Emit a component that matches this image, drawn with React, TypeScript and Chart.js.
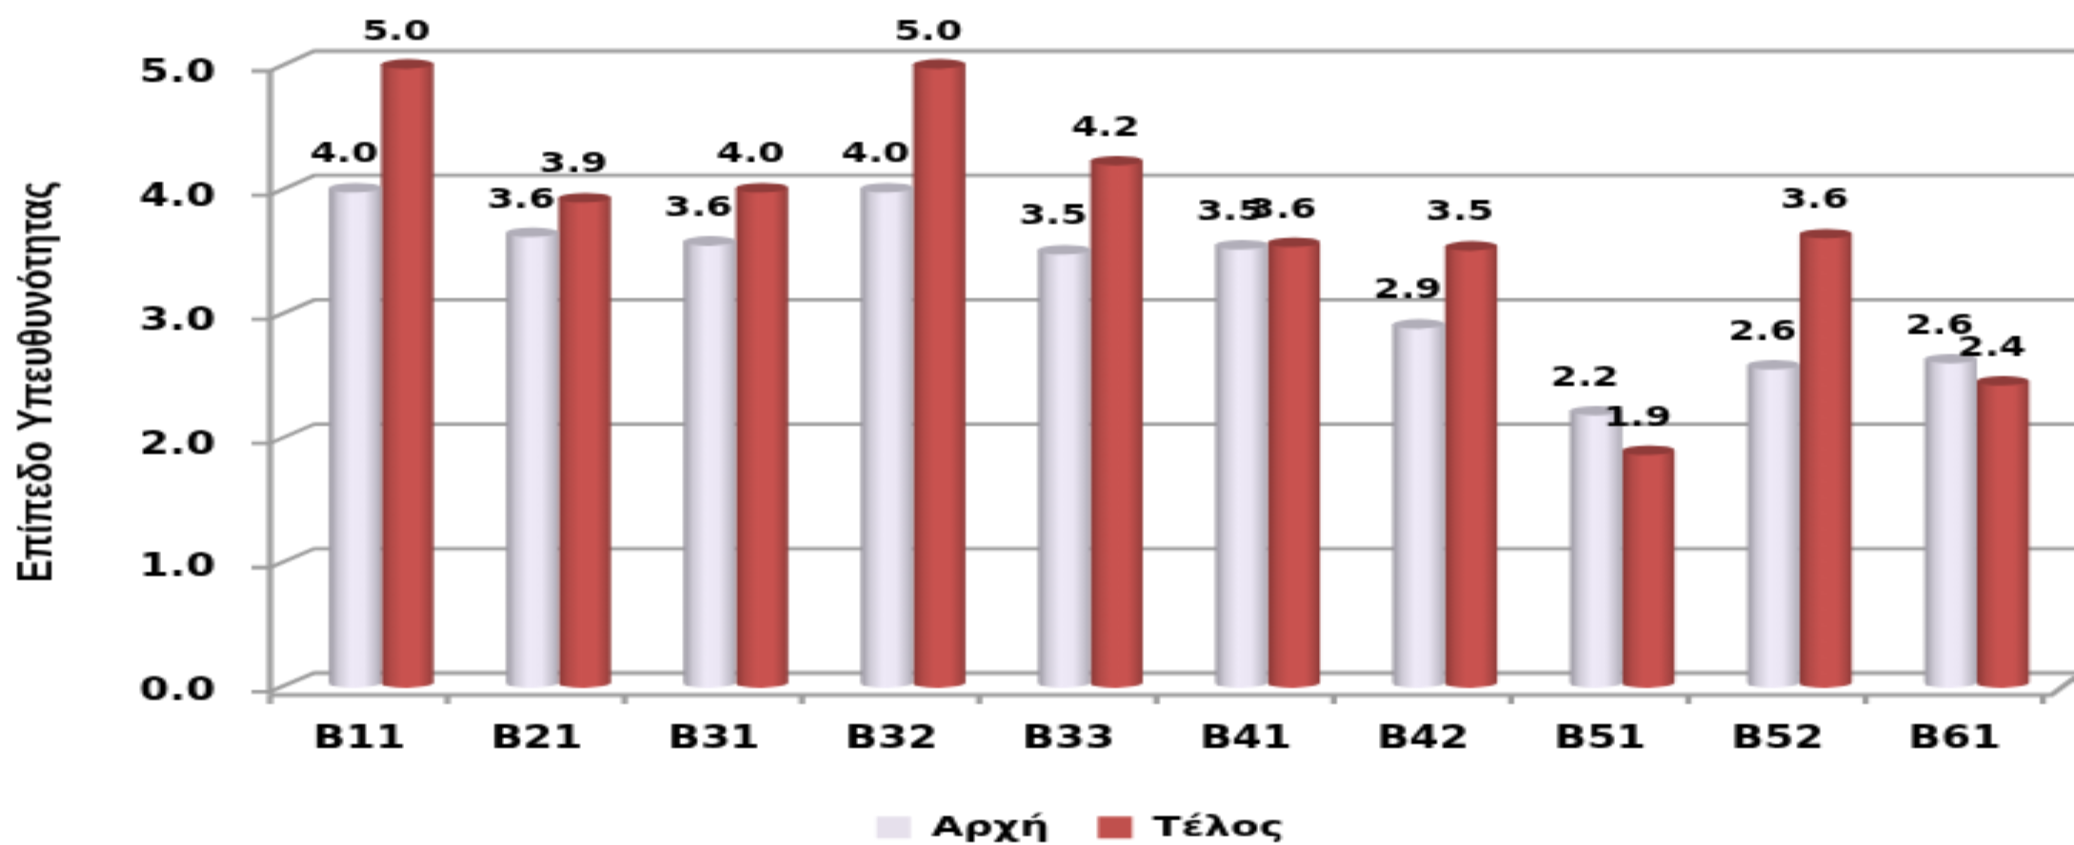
import React, { useEffect, useRef } from "react";
import { Chart, registerables } from "chart.js";

Chart.register(...registerables);

const categories = ["B11", "B21", "B31", "B32", "B33", "B41", "B42", "B51", "B52", "B61"];
const arxi = [4.0, 3.64, 3.57, 4.0, 3.5, 3.54, 2.9, 2.2, 2.57, 2.62];
const telos = [5.0, 3.92, 4.0, 5.0, 4.22, 3.56, 3.53, 1.88, 3.63, 2.44];
const seriesNames = ["Αρχή", "Τέλος"];
const legendColors = ["#e6e0ec", "#c0504d"];
const yTitle = "Επίπεδο Υπευθυνότητας";
const yTicks = [0, 1, 2, 3, 4, 5];

const W = 726;
const H = 431;
const SX = 2074 / 726;
const SY = 2;
const FONT = "'DejaVu Sans'";
const CAT_PCT = 0.59;
const GRID = "#9c9c9c";

const lilacStops: [number, string][] = [
  [0, "#97949e"], [0.18, "#cfcbd7"], [0.42, "#efeaf8"], [0.68, "#ebe6f4"], [0.9, "#c3bfcb"], [1, "#a8a5b0"],
];
const redStops: [number, string][] = [
  [0, "#883735"], [0.18, "#b24a47"], [0.4, "#ca5350"], [0.72, "#c9524f"], [0.9, "#a84643"], [1, "#8c3a38"],
];

function cylinderFill(stops: [number, string][], solid: string, side: number) {
  return (ctx: any) => {
    if (ctx.dataIndex === undefined) return solid;
    const xs = ctx.chart.scales.x;
    if (!xs) return solid;
    const c = xs.getPixelForValue(ctx.dataIndex);
    const w = ((xs.width / categories.length) * CAT_PCT) / 2;
    if (!Number.isFinite(c) || !Number.isFinite(w) || w <= 0) return solid;
    const x0 = side < 0 ? c - w : c;
    const g = ctx.chart.ctx.createLinearGradient(x0, 0, x0 + w, 0);
    stops.forEach(([o, col]) => g.addColorStop(o, col));
    return g;
  };
}

const wall3d = {
  id: "wall3d",
  beforeDatasetsDraw(chart: any) {
    const { ctx, scales } = chart;
    const xs = scales.x;
    const ys = scales.y;
    const step = xs.width / categories.length;
    const left = xs.getPixelForValue(0) - step / 2;
    const frontX = left - 7.9;
    const backX = left + 7.6;
    const endX = frontX + step * categories.length;
    const back = (v: number) => ys.getPixelForValue(v) - 5 - v * 0.3;
    const front = (v: number) => ys.getPixelForValue(v) + 4.3 - v * 0.16;
    const axisY = ys.getPixelForValue(0) + 6;
    ctx.save();
    ctx.strokeStyle = GRID;
    ctx.lineWidth = 1.8;
    yTicks.forEach((v) => {
      ctx.beginPath();
      ctx.moveTo(frontX - 6.5, front(v));
      ctx.lineTo(frontX, front(v));
      ctx.lineTo(backX, back(v));
      ctx.lineTo(W + 4, back(v));
      ctx.stroke();
    });
    ctx.lineWidth = 2.2;
    ctx.beginPath();
    ctx.moveTo(frontX, front(5));
    ctx.lineTo(frontX, axisY);
    ctx.stroke();
    ctx.beginPath();
    ctx.moveTo(frontX, axisY);
    ctx.lineTo(endX + 3, axisY);
    ctx.lineTo(W + 1, axisY - 9.5);
    ctx.stroke();
    for (let i = 0; i <= categories.length; i++) {
      const x = frontX + step * i;
      ctx.beginPath();
      ctx.moveTo(x, axisY);
      ctx.lineTo(x, axisY + 4.5);
      ctx.stroke();
    }
    ctx.restore();
  },
  afterDatasetsDraw(chart: any) {
    const { ctx } = chart;
    const caps = ["#b1aeb9", "#8f3b39"];
    [0, 1].forEach((d) => {
      const meta = chart.getDatasetMeta(d);
      meta.data.forEach((bar: any) => {
        const p = bar.getProps(["x", "y", "base", "width"], true);
        const fill = bar.options.backgroundColor;
        ctx.save();
        ctx.fillStyle = fill;
        ctx.beginPath();
        ctx.ellipse(p.x, p.base, p.width / 2, 2.4, -0.015, 0, Math.PI * 2);
        ctx.fill();
        ctx.fillStyle = caps[d];
        ctx.beginPath();
        ctx.ellipse(p.x, p.y, p.width / 2, 2.4, -0.015, 0, Math.PI * 2);
        ctx.fill();
        ctx.restore();
      });
    });
  },
  afterDraw(chart: any) {
    const { ctx } = chart;
    ctx.save();
    ctx.fillStyle = "#000";
    ctx.textAlign = "center";
    ctx.textBaseline = "middle";
    ctx.font = `bold 13.5px ${FONT}`;
    [0, 1].forEach((d) => {
      const meta = chart.getDatasetMeta(d);
      const values = chart.data.datasets[d].data;
      meta.data.forEach((bar: any, i: number) => {
        const p = bar.getProps(["x", "y"], true);
        ctx.fillText(values[i].toFixed(1), p.x - 3.9, p.y - 16);
      });
    });
    ctx.translate(13, 191);
    ctx.rotate(-Math.PI / 2);
    ctx.font = "bold 17px 'Liberation Sans'";
    ctx.fillText(yTitle, 0, 0);
    ctx.restore();
  },
};

export default function App() {
  const ref = useRef<HTMLCanvasElement | null>(null);
  useEffect(() => {
    const chart = new Chart(ref.current as HTMLCanvasElement, {
      type: "bar",
      data: {
        labels: categories,
        datasets: [
          {
            label: seriesNames[0],
            data: arxi,
            backgroundColor: cylinderFill(lilacStops, legendColors[0], -1),
            borderWidth: 0,
            categoryPercentage: CAT_PCT,
            barPercentage: 1,
          },
          {
            label: seriesNames[1],
            data: telos,
            backgroundColor: cylinderFill(redStops, legendColors[1], 1),
            borderWidth: 0,
            categoryPercentage: CAT_PCT,
            barPercentage: 1,
          },
        ],
      } as any,
      options: {
        animation: false,
        responsive: false,
        devicePixelRatio: 1,
        layout: { padding: { left: 33, right: 3, top: 32, bottom: 0 } },
        plugins: {
          tooltip: { enabled: false },
          legend: {
            position: "bottom",
            labels: {
              boxWidth: 12,
              boxHeight: 11,
              padding: 17,
              color: "#000",
              font: { family: FONT, size: 14.5, weight: "bold" },
              generateLabels(c: any) {
                return Chart.defaults.plugins.legend.labels.generateLabels(c).map((item: any, i: number) => ({
                  ...item,
                  fillStyle: legendColors[i],
                  strokeStyle: legendColors[i],
                  lineWidth: 0,
                }));
              },
            },
          },
        },
        scales: {
          x: {
            grid: { display: false },
            border: { display: false },
            afterFit(s: any) {
              s.height = 48;
              s.paddingLeft = 0;
              s.paddingRight = 0;
            },
            ticks: {
              color: "#000",
              padding: 12,
              labelOffset: -7.7,
              maxRotation: 0,
              font: { family: FONT, size: 15, weight: "bold" },
            },
          },
          y: {
            min: 0,
            max: 5,
            grid: { display: false },
            border: { display: false },
            afterFit(s: any) {
              s.width = 69.4;
              s.paddingTop = 0;
              s.paddingBottom = 0;
            },
            ticks: {
              stepSize: 1,
              color: "#000",
              padding: 19,
              labelOffset: 5,
              callback: (v: any) => Number(v).toFixed(1),
              font: { family: FONT, size: 15, weight: "bold" },
            },
          },
        },
      } as any,
      plugins: [wall3d],
    });
    return () => chart.destroy();
  }, []);

  return (
    <div style={{ position: "absolute", left: 0, top: 0, width: 2074, height: 845, overflow: "hidden", background: "#fff" }}>
      <div style={{ width: W, height: H, transform: `scale(${SX}, ${SY})`, transformOrigin: "0 0" }}>
        <canvas ref={ref} width={W} height={H} style={{ display: "block" }} />
      </div>
    </div>
  );
}
